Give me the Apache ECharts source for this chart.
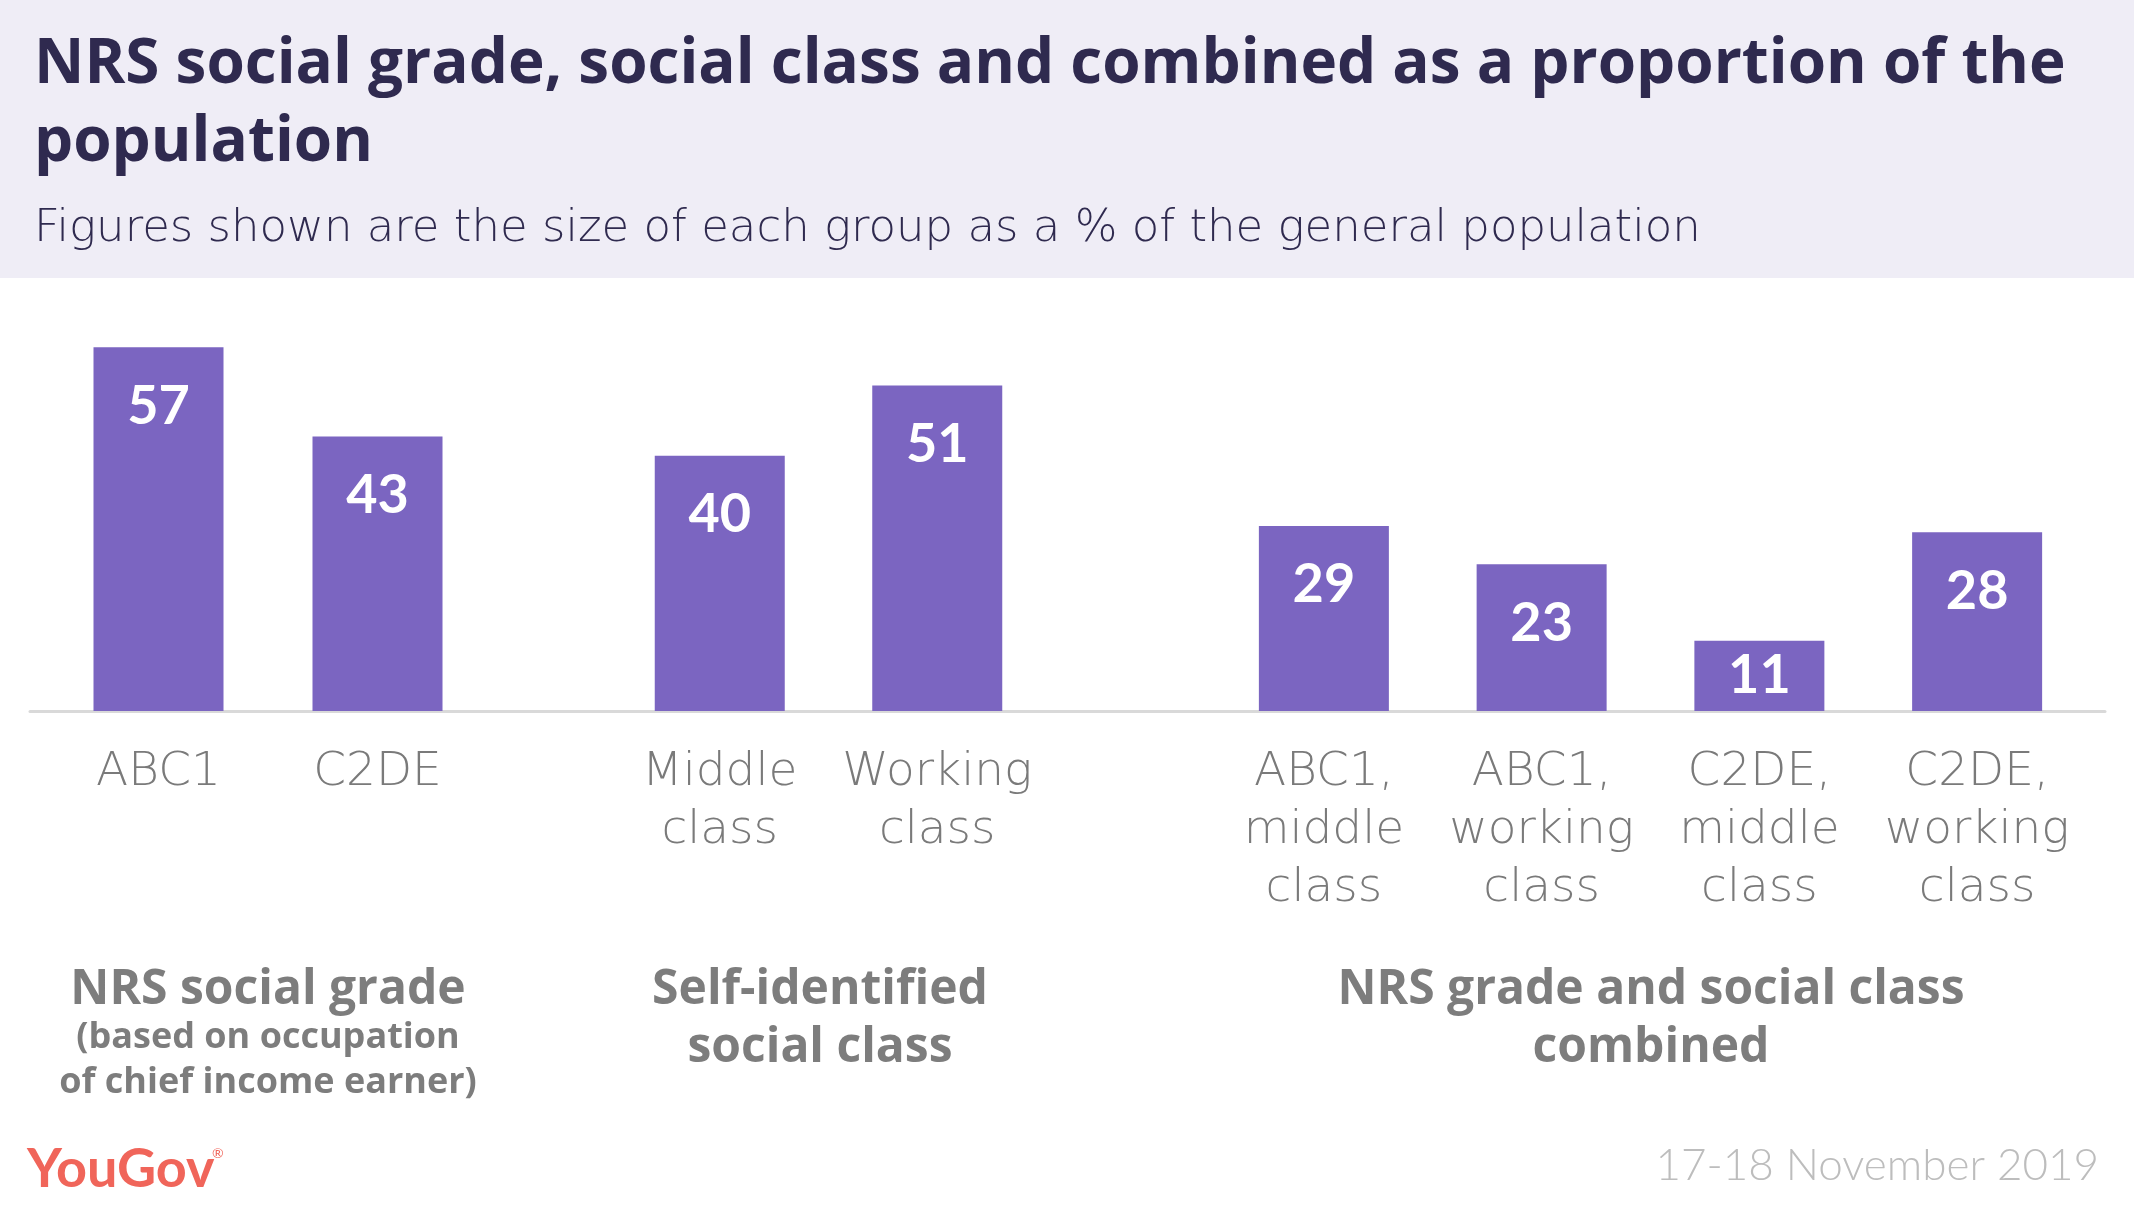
<!DOCTYPE html>
<html>
<head>
<meta charset="utf-8">
<script src="https://cdn.jsdelivr.net/npm/echarts@6/dist/echarts.min.js"></script>
<style>
html,body{margin:0;padding:0;background:#fff;}
#chart{width:2134px;height:1211px;}
</style>
</head>
<body>
<div id="chart"></div>
<script>
// ---- data ----
const titleText = 'NRS social grade, social class and combined as a proportion of the\npopulation';
const subtitleText = 'Figures shown are the size of each group as a % of the general population';
const cats1 = ['ABC1', 'C2DE'];
const vals1 = [57, 43];
const cats2 = ['Middle\nclass', 'Working\nclass'];
const vals2 = [40, 51];
const cats3 = ['ABC1,\nmiddle\nclass', 'ABC1,\nworking\nclass', 'C2DE,\nmiddle\nclass', 'C2DE,\nworking\nclass'];
const vals3 = [29, 23, 11, 28];
const groupTitles = ['NRS social grade', 'Self-identified\nsocial class', 'NRS grade and social class\ncombined'];
const groupNote = '(based on occupation\nof chief income earner)';
const dateText = '17-18 November 2019';
const brandText = 'YouGov';

// ---- style ----
const LIGHT = '"DejaVu Sans"';
const BOLD = '"Open Sans"';
const NUMFONT = 'Lato';
const PURPLE = '#7b65c1';
const DARK = '#2f2a4f';
const GREY = '#7a7a7a';
const AXIS_MAX = 60;
const gridTop = 328, gridBottom = 500;

const grids = [
  {left: 49, width: 438, top: gridTop, bottom: gridBottom},
  {left: 611, width: 435, top: gridTop, bottom: gridBottom},
  {left: 1215, width: 871, top: gridTop, bottom: gridBottom},
  {left: 30, width: 2075, top: gridTop, bottom: gridBottom}
];

function xAxisFor(i, cats) {
  return {
    type: 'category', gridIndex: i, data: cats,
    axisLine: {show: false}, axisTick: {show: false},
    axisLabel: {
      interval: 0, margin: 33, color: GREY, fontFamily: LIGHT,
      fontSize: 47, lineHeight: 58, fontWeight: 200
    }
  };
}
function yAxisFor(i) {
  return {type: 'value', gridIndex: i, min: 0, max: AXIS_MAX, show: false};
}
function barData(vals) {
  return vals.map(v => ({
    value: v,
    label: v < 15 ? {position: 'inside'} : {position: 'insideTop', distance: 32}
  }));
}
function barSeries(i, vals) {
  return {
    type: 'bar', xAxisIndex: i, yAxisIndex: i, data: barData(vals),
    barWidth: 130, itemStyle: {color: PURPLE},
    label: {
      show: true, color: '#fff', fontFamily: NUMFONT, fontWeight: 'bold', fontSize: 54
    },
    silent: true
  };
}

const chart = echarts.init(document.getElementById('chart'), null, {renderer: 'canvas'});
chart.setOption({
  animation: false,
  backgroundColor: '#fff',
  title: [
    {text: titleText, left: 34, top: 26, padding: 0,
     textStyle: {fontFamily: BOLD, fontWeight: 'bold', fontSize: 62, lineHeight: 78, color: DARK}},
    {text: subtitleText, left: 34, top: 204, padding: 0,
     textStyle: {fontFamily: LIGHT, fontWeight: 200, fontSize: 45, lineHeight: 50, color: DARK}}
  ],
  grid: grids,
  xAxis: [
    xAxisFor(0, cats1), xAxisFor(1, cats2), xAxisFor(2, cats3),
    {type: 'category', gridIndex: 3, data: [''], axisTick: {show: false}, axisLabel: {show: false},
     axisLine: {show: true, lineStyle: {color: '#d9d9d9', width: 3}}, z: 1}
  ],
  yAxis: [yAxisFor(0), yAxisFor(1), yAxisFor(2), yAxisFor(3)],
  series: [barSeries(0, vals1), barSeries(1, vals2), barSeries(2, vals3)],
  graphic: [
    {type: 'rect', z: -10, shape: {x: 0, y: 0, width: 2134, height: 278}, style: {fill: '#efedf6'}, silent: true},
    {type: 'text', x: 268, y: 961, style: {text: groupTitles[0], textAlign: 'center', textVerticalAlign: 'top',
      fontFamily: BOLD, fontWeight: 'bold', fontSize: 48, lineHeight: 58, fill: '#7d7d7d'}},
    {type: 'text', x: 268, y: 1015, style: {text: groupNote, textAlign: 'center', textVerticalAlign: 'top',
      fontFamily: BOLD, fontWeight: 'bold', fontSize: 36, lineHeight: 45, fill: '#7d7d7d'}},
    {type: 'text', x: 820, y: 961, style: {text: groupTitles[1], textAlign: 'center', textVerticalAlign: 'top',
      fontFamily: BOLD, fontWeight: 'bold', fontSize: 48, lineHeight: 58, fill: '#7d7d7d'}},
    {type: 'text', x: 1651, y: 961, style: {text: groupTitles[2], textAlign: 'center', textVerticalAlign: 'top',
      fontFamily: BOLD, fontWeight: 'bold', fontSize: 48, lineHeight: 58, fill: '#7d7d7d'}},
    {type: 'text', x: 2099, y: 1166, style: {text: dateText, textAlign: 'right', textVerticalAlign: 'middle',
      fontFamily: 'Lato', fontWeight: 300, fontSize: 44, fill: '#bdbdbd'}},
    {type: 'text', x: 27, y: 1170, style: {text: brandText, textAlign: 'left', textVerticalAlign: 'middle',
      fontFamily: 'Lato', fontWeight: 'bold', fontSize: 54, fill: '#f0655a'}},
    {type: 'text', x: 212, y: 1153, style: {text: '®', textAlign: 'left', textVerticalAlign: 'middle',
      fontFamily: 'Lato', fontSize: 14, fill: '#f0655a'}}
  ]
});
</script>
</body>
</html>
